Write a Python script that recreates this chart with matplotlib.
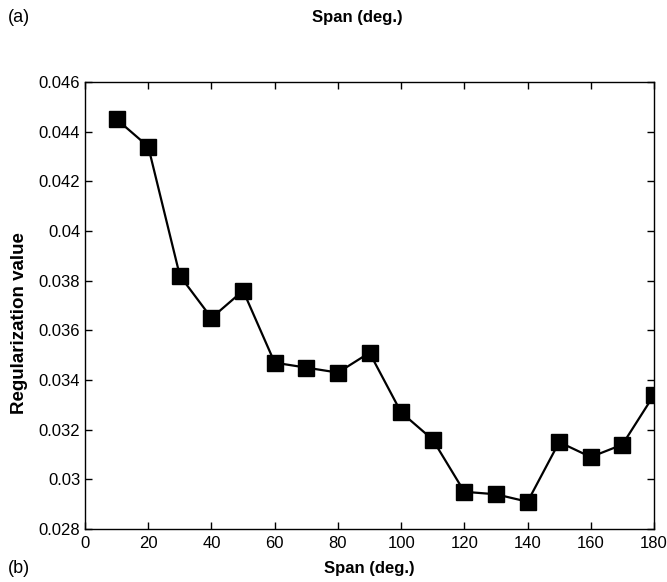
import numpy as np
import matplotlib
matplotlib.use('Agg')
import matplotlib.pyplot as plt

span = [10, 20, 30, 40, 50, 60, 70, 80, 90, 100, 110, 120, 130, 140, 150, 160, 170, 180]
reg = [0.0445, 0.0434, 0.0382, 0.0365, 0.0376, 0.0347, 0.0345, 0.0343, 0.0351,
       0.0327, 0.0316, 0.0295, 0.0294, 0.0291, 0.0315, 0.0309, 0.0314, 0.0334]
xticks = list(range(0, 181, 20))
yticks = [0.028, 0.03, 0.032, 0.034, 0.036, 0.038, 0.04, 0.042, 0.044, 0.046]
ylabels = ['0.028', '0.03', '0.032', '0.034', '0.036', '0.038', '0.04', '0.042', '0.044', '0.046']

plt.rcParams['font.family'] = ['Liberation Sans', 'DejaVu Sans']

fig = plt.figure(figsize=(6.67, 5.82), dpi=100)
# axes box: x 85..654 px, y 82..529 px
ax = fig.add_axes([0.1275, 0.091, 0.853, 0.768])

ax.plot(span, reg, color='black', lw=1.6, marker='s', ms=11.5, mfc='black', mec='black')

ax.set_xlim(0, 180)
ax.set_ylim(0.028, 0.046)
ax.set_xticks(xticks)
ax.set_yticks(yticks)
ax.set_yticklabels(ylabels)
ax.tick_params(direction='in', top=True, right=True, labelsize=12, length=5, width=1)
ax.tick_params(axis='x', pad=5)
for s in ax.spines.values():
    s.set_linewidth(1)

ax.set_xlabel('Span (deg.)', fontsize=12, fontweight='bold', labelpad=7)
ax.set_ylabel('Regularization value', fontsize=13.5, fontweight='bold')
ax.yaxis.set_label_coords(-0.1, 0.46)

fig.text(0.012, 0.97, '(a)', fontsize=13, va='center', ha='left')
fig.text(0.535, 0.97, 'Span (deg.)', fontsize=12, fontweight='bold', va='center', ha='center')
fig.text(0.012, 0.024, '(b)', fontsize=13, va='center', ha='left')

fig.savefig('out.png', dpi=100)
